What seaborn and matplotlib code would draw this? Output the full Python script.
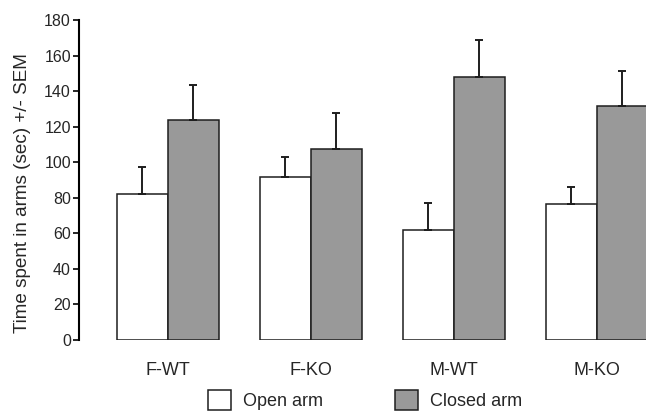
import matplotlib
matplotlib.use("Agg")
import matplotlib.pyplot as plt
import numpy as np
import pandas as pd
import seaborn as sns

groups = ["F-WT", "F-KO", "M-WT", "M-KO"]
arms = ["Open arm", "Closed arm"]
open_mean = [82, 91.5, 62, 76.5]
open_sem = [15.5, 11.5, 15, 9.5]
closed_mean = [123.5, 107.5, 148, 131.5]
closed_sem = [20, 20, 20.5, 20]

df = pd.DataFrame({
    "group": groups * 2,
    "arm": [arms[0]] * 4 + [arms[1]] * 4,
    "time": open_mean + closed_mean,
})
sems = [open_sem, closed_sem]

sns.set_style("ticks")
plt.rcParams["font.family"] = ["Liberation Sans", "DejaVu Sans"]

fig = plt.figure(figsize=(6.46, 4.12), dpi=100)
ax = fig.add_axes([0.1223, 0.1748, 0.8777, 0.7767])

sns.barplot(data=df, x="group", y="time", hue="arm", order=groups,
            hue_order=arms, palette=["white", "#999999"], errorbar=None,
            width=0.713, gap=0, edgecolor="#1e1e1e", linewidth=1.1, ax=ax)

# upper-only SEM bars
for cont, sem in zip(ax.containers, sems):
    xs = [p.get_x() + p.get_width() / 2 for p in cont.patches]
    hs = [p.get_height() for p in cont.patches]
    ax.errorbar(xs, hs, yerr=[np.zeros(len(sem)), sem], fmt="none",
                ecolor="#1e1e1e", elinewidth=1.4, capsize=3, capthick=1.4,
                zorder=1)

ax.set_xlim(-0.622, 3.343)
ax.set_ylim(0, 180)
ax.set_yticks(range(0, 181, 20))
ax.set_xlabel("")
ax.set_ylabel("Time spent in arms (sec) +/- SEM", fontsize=13.6)
ax.yaxis.set_label_coords(-0.085, 0.46)
ax.tick_params(axis="x", length=0, pad=16, labelsize=13)
ax.tick_params(axis="y", length=4.3, width=1.4, pad=1.5, labelsize=11.5)
sns.despine(ax=ax, bottom=True)
ax.spines["left"].set_linewidth(1.5)
ax.spines["left"].set_color("black")

sns.move_legend(ax, loc="center", bbox_to_anchor=(365 / 646, 1 - 400 / 412),
                bbox_transform=fig.transFigure, ncol=2, frameon=False,
                title=None, fontsize=13, handlelength=1.28, handleheight=1.28,
                handletextpad=0.67, columnspacing=3.95, borderpad=0)

fig.savefig("out.png", dpi=100)
